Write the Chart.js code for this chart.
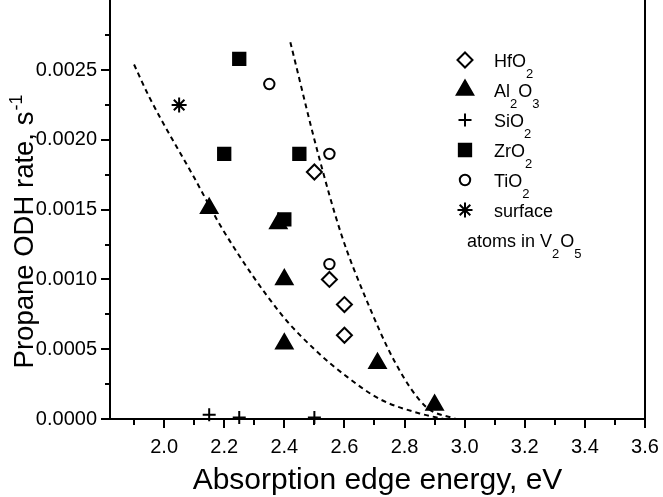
<!DOCTYPE html>
<html>
<head>
<meta charset="utf-8">
<script src="https://cdn.jsdelivr.net/npm/chart.js@4.4.1/dist/chart.umd.min.js"></script>
<style>
  html, body { margin: 0; padding: 0; background: #fff; }
</style>
</head>
<body>
<canvas id="graficoODH" width="663" height="497"></canvas>
<script>
// measured rates vs. absorption edge energy
const hfo2X = [2.50, 2.55, 2.60, 2.60];
const hfo2Y = [0.00177, 0.00100, 0.00082, 0.00060];
const al2o3X = [2.15, 2.38, 2.40, 2.40, 2.71, 2.90];
const al2o3Y = [0.00151, 0.00140, 0.00100, 0.00054, 0.00040, 0.00010];
const sio2X = [2.15, 2.25, 2.50];
const sio2Y = [0.00003, 0.00001, 0.00001];
const zro2X = [2.20, 2.25, 2.40, 2.45];
const zro2Y = [0.00190, 0.00258, 0.00143, 0.00190];
const tio2X = [2.35, 2.55, 2.55];
const tio2Y = [0.00240, 0.00190, 0.00111];
const v2o5X = [2.05];
const v2o5Y = [0.00225];

// dashed guide curves
const lowerCurveX = [1.90, 1.95, 2.10, 2.20, 2.39, 2.50, 2.61, 2.72, 2.85, 2.93];
const lowerCurveY = [0.00254, 0.00231, 0.00173, 0.00134, 0.00075, 0.00050, 0.00030, 0.00014, 0.00004, 0.0];
const upperCurveX = [2.42, 2.51, 2.59, 2.67, 2.77, 2.87, 2.97];
const upperCurveY = [0.00270, 0.00192, 0.00132, 0.00087, 0.00040, 0.00009, 0.0];

const seriesNames = ['HfO_2', 'Al_2O_3', 'SiO_2', 'ZrO_2', 'TiO_2', 'surface|atoms in V_2O_5'];

const xMajorTicks = [2.0, 2.2, 2.4, 2.6, 2.8, 3.0, 3.2, 3.4, 3.6];
const xMinorTicks = [1.9, 2.1, 2.3, 2.5, 2.7, 2.9, 3.1, 3.3, 3.5];
const yMajorTicks = [0, 0.0005, 0.0010, 0.0015, 0.0020, 0.0025];
const yMinorTicks = [0.00025, 0.00075, 0.00125, 0.00175, 0.00225, 0.00275];

const FONT = '"Liberation Sans", Arial, sans-serif';

function pts(xs, ys) {
  return xs.map((x, i) => ({ x: x, y: ys[i] }));
}

function tickList(major, minor) {
  return major.map(v => ({ value: v, major: true }))
    .concat(minor.map(v => ({ value: v, major: false })))
    .sort((a, b) => a.value - b.value);
}

// text with _N subscripts
function drawRich(ctx, text, x, y) {
  text.split(/(_\d)/).forEach(part => {
    if (!part) return;
    const sub = part[0] === '_';
    const s = sub ? part.slice(1) : part;
    ctx.font = (sub ? '13px ' : '18px ') + FONT;
    ctx.fillText(s, x, sub ? y + 11 : y);
    x += ctx.measureText(s).width + (sub ? 1 : 0);
  });
}

const markerSets = [
  { pointStyle: 'rectRot', radius: 7.5, fill: '#fff', x: hfo2X, y: hfo2Y },
  { pointStyle: 'triangle', radius: 9.5, fill: '#000', x: al2o3X, y: al2o3Y },
  { pointStyle: 'cross', radius: 6.5, fill: '#000', x: sio2X, y: sio2Y },
  { pointStyle: 'rect', radius: 8.7, fill: '#000', x: zro2X, y: zro2Y },
  { pointStyle: 'circle', radius: 5.2, fill: '#fff', x: tio2X, y: tio2Y },
  { pointStyle: 'star', radius: 7.5, fill: '#000', x: v2o5X, y: v2o5Y }
];

const datasets = markerSets.map((m, i) => ({
  type: 'scatter',
  label: seriesNames[i],
  data: pts(m.x, m.y),
  pointStyle: m.pointStyle,
  pointRadius: m.radius,
  pointHoverRadius: m.radius,
  pointBackgroundColor: m.fill,
  pointBorderColor: '#000',
  pointBorderWidth: 2,
  clip: false
}));

[[lowerCurveX, lowerCurveY], [upperCurveX, upperCurveY]].forEach(c => {
  datasets.push({
    type: 'line',
    label: '',
    data: pts(c[0], c[1]),
    borderColor: '#000',
    borderWidth: 2,
    borderDash: [5, 4],
    pointRadius: 0,
    fill: false,
    cubicInterpolationMode: 'monotone'
  });
});

const frameAndLabels = {
  id: 'frameAndLabels',
  afterDraw(chart) {
    const ctx = chart.ctx;
    const area = chart.chartArea;
    const sx = chart.scales.x, sy = chart.scales.y;
    ctx.save();
    ctx.strokeStyle = '#000';
    ctx.fillStyle = '#000';
    ctx.lineWidth = 2;

    // right frame edge, axes run up to the top of the canvas
    ctx.beginPath();
    ctx.moveTo(area.right, 0);
    ctx.lineTo(area.right, area.bottom);
    ctx.moveTo(area.left, 0);
    ctx.lineTo(area.left, area.top);
    ctx.stroke();

    // outward tick marks, long for labelled values
    ctx.beginPath();
    sx.ticks.forEach(t => {
      const px = Math.round(sx.getPixelForValue(t.value));
      ctx.moveTo(px, area.bottom);
      ctx.lineTo(px, area.bottom + (t.major ? 9 : 6));
    });
    sy.ticks.forEach(t => {
      const py = Math.round(sy.getPixelForValue(t.value));
      ctx.moveTo(area.left, py);
      ctx.lineTo(area.left - (t.major ? 9 : 5), py);
    });
    ctx.stroke();

    // axis titles
    ctx.textBaseline = 'alphabetic';
    ctx.textAlign = 'center';
    ctx.font = '30px ' + FONT;
    ctx.fillText('Absorption edge energy, eV', (area.left + area.right) / 2, 489);

    ctx.save();
    ctx.translate(33, 232);
    ctx.rotate(-Math.PI / 2);
    ctx.textAlign = 'left';
    ctx.font = '27.5px ' + FONT;
    const main = 'Propane ODH rate, s';
    const wMain = ctx.measureText(main).width;
    ctx.font = '18px ' + FONT;
    const wSup = ctx.measureText('-1').width;
    const start = -(wMain + wSup) / 2;
    ctx.font = '27.5px ' + FONT;
    ctx.fillText(main, start, 0);
    ctx.font = '18px ' + FONT;
    ctx.fillText('-1', start + wMain + 1, -11);
    ctx.restore();

    // legend
    const symX = 465, textX = 494, rowY = 60, rowH = 30;
    ctx.textAlign = 'left';
    markerSets.forEach((m, i) => {
      const cy = rowY + i * rowH;
      ctx.fillStyle = m.fill;
      ctx.strokeStyle = '#000';
      ctx.lineWidth = 2;
      Chart.helpers.drawPoint(ctx, { pointStyle: m.pointStyle, radius: m.radius, borderWidth: 2, rotation: 0 }, symX, cy);
      ctx.fillStyle = '#000';
      const lines = seriesNames[i].split('|');
      drawRich(ctx, lines[0], textX, cy + 6.5);
      if (lines[1]) drawRich(ctx, lines[1], symX + 2, cy + rowH + 6.5);
    });
    ctx.restore();
  }
};

const ctx = document.getElementById('graficoODH').getContext('2d');

const graficoODH = new Chart(ctx, {
  data: { datasets: datasets },
  options: {
    responsive: false,
    devicePixelRatio: 1,
    animation: false,
    layout: { padding: { top: 0, right: 18, bottom: 0, left: 0 } },
    plugins: {
      legend: { display: false },
      tooltip: { enabled: false }
    },
    scales: {
      x: {
        type: 'linear',
        position: 'bottom',
        min: 1.82,
        max: 3.6,
        bounds: 'data',
        afterBuildTicks: s => { s.ticks = tickList(xMajorTicks, xMinorTicks); },
        afterFit: s => { s.height = 78; s.paddingLeft = 0; s.paddingRight = 0; },
        grid: { display: true, drawOnChartArea: false, tickLength: 9, tickColor: 'rgba(0,0,0,0)' },
        border: { display: true, color: '#000', width: 2 },
        ticks: {
          autoSkip: false,
          maxRotation: 0,
          padding: 7,
          color: '#000',
          font: { family: FONT, size: 20 },
          callback: (v, i, ticks) => ticks[i].major ? v.toFixed(1) : ''
        }
      },
      y: {
        type: 'linear',
        min: 0,
        max: 0.00292,
        bounds: 'data',
        afterBuildTicks: s => { s.ticks = tickList(yMajorTicks, yMinorTicks); },
        afterFit: s => { s.width = 110; s.paddingTop = 0; s.paddingBottom = 0; },
        grid: { display: true, drawOnChartArea: false, tickLength: 9, tickColor: 'rgba(0,0,0,0)' },
        border: { display: true, color: '#000', width: 2 },
        ticks: {
          autoSkip: false,
          padding: 4,
          color: '#000',
          font: { family: FONT, size: 20 },
          callback: (v, i, ticks) => ticks[i].major ? v.toFixed(4) : ''
        }
      }
    }
  },
  plugins: [frameAndLabels]
});
</script>
</body>
</html>
